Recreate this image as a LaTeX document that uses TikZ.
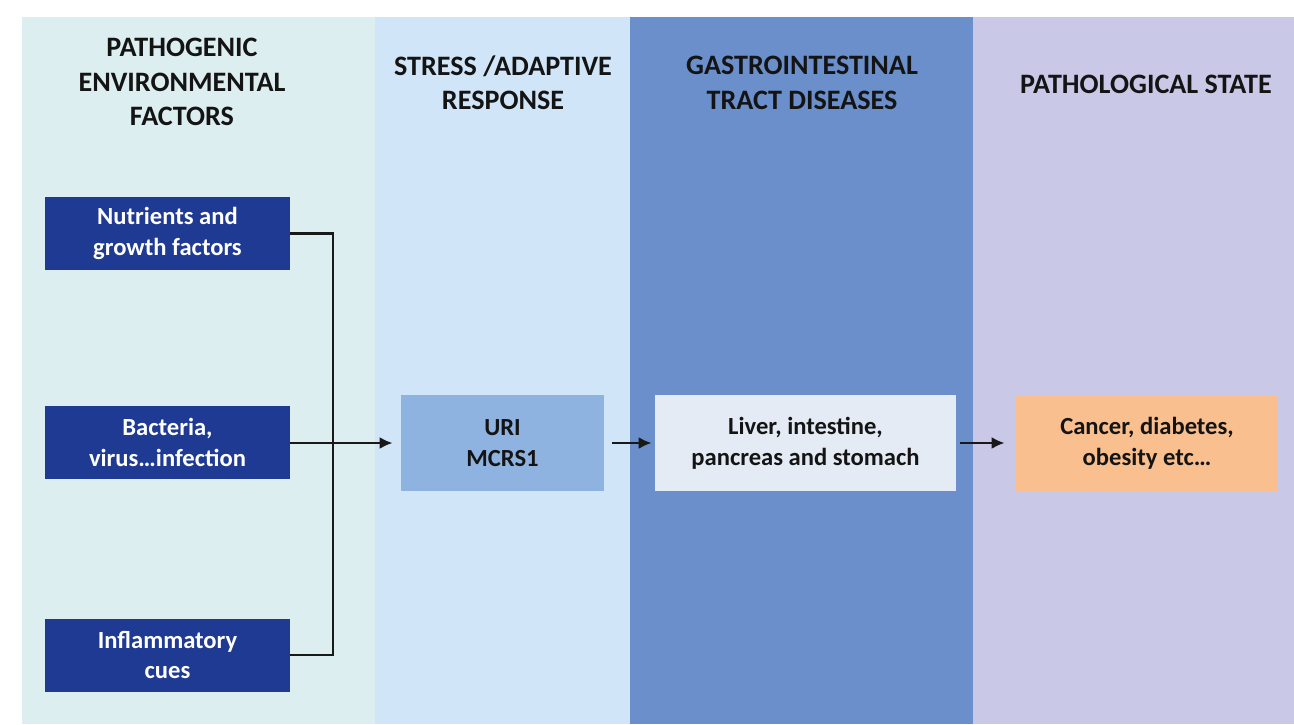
\documentclass[tikz,border=0pt]{standalone}
\usepackage{fontspec}
\setmainfont{Carlito}
\usetikzlibrary{arrows.meta}

\definecolor{colA}{HTML}{DCEEF0}
\definecolor{colB}{HTML}{D1E5F8}
\definecolor{colC}{HTML}{6A8FCB}
\definecolor{colD}{HTML}{C9C9E7}
\definecolor{navy}{HTML}{1F3A93}
\definecolor{uriblue}{HTML}{8FB3E0}
\definecolor{organ}{HTML}{E4EBF5}
\definecolor{peach}{HTML}{F9BF8F}

\begin{document}
\begin{tikzpicture}[
    font=\bfseries,
    heading/.style={align=center, text=black!92, font=\fontsize{16}{19.5}\selectfont\bfseries},
    factor/.style={fill=navy, text=white, minimum width=4.9cm, minimum height=1.46cm, align=center, font=\fontsize{14}{17.6}\selectfont\bfseries},
    stage/.style={minimum width=#1, minimum height=1.92cm, align=center, text=black!92, font=\fontsize{14}{17.6}\selectfont\bfseries},
    link/.style={line width=1.4pt, black!90},
    flow/.style={link, -{Latex[length=2.6mm, width=2.4mm]}}
]
\useasboundingbox (0,0) rectangle (25.88,-14.48);

% column backgrounds
\fill[colA] (0.44,-0.34) rectangle (7.5,-14.48);
\fill[colB] (7.5,-0.34) rectangle (12.6,-14.48);
\fill[colC] (12.6,-0.34) rectangle (19.46,-14.48);
\fill[colD] (19.46,-0.34) rectangle (25.88,-14.48);

% headings
\node[heading] (h1) at (3.64,-1.64) {PATHOGENIC\\ENVIRONMENTAL\\FACTORS};
\node[heading] (h2) at (10.06,-1.66) {STRESS /ADAPTIVE\\RESPONSE};
\node[heading] (h3) at (16.04,-1.66) {GASTROINTESTINAL\\TRACT DISEASES};
\node[heading] (h4) at (22.92,-1.68) {PATHOLOGICAL STATE};

% environmental factors
\node[factor] (nutrients) at (3.35,-4.67) {Nutrients and\\growth factors};
\node[factor] (bacteria) at (3.35,-8.84) {Bacteria,\\virus\dots infection};
\node[factor] (inflam) at (3.35,-13.1) {Inflammatory\\cues};

% stages
\node[stage=4.06cm, fill=uriblue] (uri) at (10.05,-8.86) {URI\\MCRS1};
\node[stage=6.02cm, fill=organ] (organs) at (16.11,-8.86) {Liver, intestine,\\pancreas and stomach};
\node[stage=5.24cm, fill=peach] (disease) at (22.94,-8.86) {Cancer, diabetes,\\obesity etc\dots};

% connectors
\coordinate (join) at (6.66,-8.86);
\draw[link] (nutrients.east) -| (join);
\draw[link] (inflam.east) -| (join);
\draw[flow, shorten >=0.16cm] (bacteria.east |- join) -- (uri.west);
\draw[flow, shorten <=0.16cm, shorten >=0.06cm] (uri.east) -- (organs.west);
\draw[flow, shorten <=0.08cm, shorten >=0.22cm] (organs.east) -- (disease.west);

\end{tikzpicture}
\end{document}
